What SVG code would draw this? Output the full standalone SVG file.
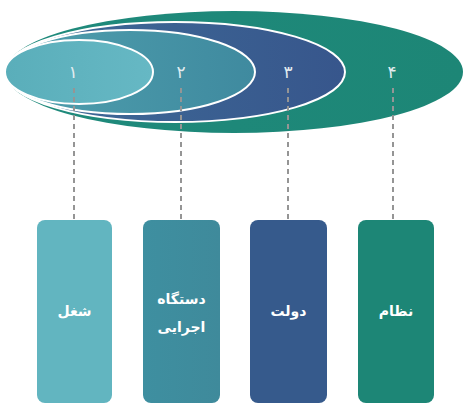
<svg xmlns="http://www.w3.org/2000/svg" width="465" height="414" viewBox="0 0 465 414">
<defs>
<linearGradient id="g4" x1="0" y1="0" x2="1" y2="0"><stop offset="0" stop-color="#1f8a7c"/><stop offset="1" stop-color="#1d8676"/></linearGradient>
<linearGradient id="g3" x1="0" y1="0" x2="1" y2="0"><stop offset="0" stop-color="#3f6c98"/><stop offset="1" stop-color="#37568c"/></linearGradient>
<linearGradient id="g2" x1="0" y1="0" x2="1" y2="0"><stop offset="0" stop-color="#4f9fae"/><stop offset="1" stop-color="#3f8a9f"/></linearGradient>
<linearGradient id="g1" x1="0" y1="0" x2="1" y2="0"><stop offset="0" stop-color="#5aaeba"/><stop offset="1" stop-color="#66b8c4"/></linearGradient>
<linearGradient id="b2" x1="0" y1="0" x2="1" y2="0"><stop offset="0" stop-color="#3e8fa0"/><stop offset="1" stop-color="#3f8a9b"/></linearGradient>
</defs>
<style>
.ring{stroke:#ffffff;stroke-width:2}
.num{font-family:"DejaVu Sans",sans-serif;font-size:17px;fill:#e2ecf0;text-anchor:middle;dominant-baseline:central}
.lbl{font-family:"DejaVu Sans","Noto Sans",sans-serif;font-size:14px;font-weight:bold;fill:#ffffff;text-anchor:middle;dominant-baseline:central}
.dash{stroke:#959595;stroke-width:2;stroke-dasharray:5,4;fill:none}
</style>
<rect width="465" height="414" fill="#ffffff"/>
<g id="levels">
<ellipse id="level4" cx="234" cy="72" rx="229" ry="61" fill="url(#g4)"/>
<ellipse id="level3" class="ring" cx="175" cy="72" rx="170" ry="50" fill="url(#g3)"/>
<ellipse id="level2" class="ring" cx="130" cy="72" rx="125" ry="42" fill="url(#g2)"/>
<ellipse id="level1" class="ring" cx="79" cy="72" rx="74" ry="32" fill="url(#g1)"/>
<text class="num" x="73" y="72">١</text>
<text class="num" x="181" y="72">٢</text>
<text class="num" x="288" y="72">٣</text>
<text class="num" x="392" y="72">۴</text>
</g>
<g id="connectors">
<line class="dash" x1="74" y1="88" x2="74" y2="220"/>
<line class="dash" x1="181" y1="88" x2="181" y2="220"/>
<line class="dash" x1="288" y1="88" x2="288" y2="220"/>
<line class="dash" x1="393" y1="88" x2="393" y2="220"/>
</g>
<g id="box1"><rect x="37" y="220" width="75" height="183" rx="8" fill="#62b5c0"/><text class="lbl" x="74.5" y="311">شغل</text></g>
<g id="box2"><rect x="143" y="220" width="77" height="183" rx="8" fill="url(#b2)"/><text class="lbl" x="181.5" y="299">دستگاه</text><text class="lbl" x="181.5" y="327">اجرایی</text></g>
<g id="box3"><rect x="250" y="220" width="77" height="183" rx="8" fill="#365a8c"/><text class="lbl" x="288.5" y="311">دولت</text></g>
<g id="box4"><rect x="358" y="220" width="76" height="183" rx="8" fill="#1d8676"/><text class="lbl" x="396" y="311">نظام</text></g>
</svg>
